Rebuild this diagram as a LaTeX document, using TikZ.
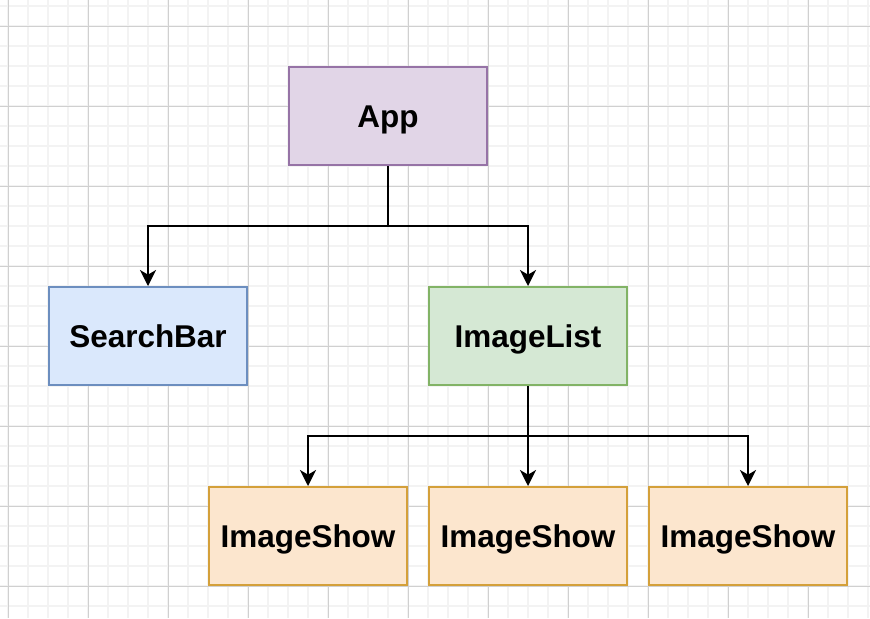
\documentclass[tikz,border=0pt]{standalone}
\usepackage{fontspec}
\setmainfont{Liberation Sans}
\usetikzlibrary{arrows.meta}
\definecolor{minorgrid}{HTML}{F3F3F3}
\definecolor{majorgrid}{HTML}{D0D0D0}
\definecolor{appfill}{HTML}{E1D5E7}
\definecolor{appdraw}{HTML}{9673A6}
\definecolor{sbfill}{HTML}{DAE8FC}
\definecolor{sbdraw}{HTML}{6C8EBF}
\definecolor{ilfill}{HTML}{D5E8D4}
\definecolor{ildraw}{HTML}{82B366}
\definecolor{isfill}{HTML}{FCE6CE}
\definecolor{isdraw}{HTML}{D4A03A}
\tikzset{
  comp/.style={draw, line width=1.5pt, minimum width=148.5pt, minimum height=73.5pt,
    inner sep=0pt, font=\fontsize{23.6pt}{28pt}\selectfont\bfseries, text=black,
    text height=17pt, text depth=0pt},
  conn/.style={line width=1.5pt, draw=black,
    -{Stealth[length=12pt, width=12pt, inset=3.5pt]}},
  link/.style={line width=1.5pt, draw=black},
}
\begin{document}
\begin{tikzpicture}[x=0.75pt, y=-0.75pt]
\useasboundingbox (0,0) rectangle (870,618);
\fill[white] (0,0) rectangle (870,618);
% minor grid
\foreach \x in {8,28,...,868} \draw[minorgrid, line width=1.5pt] (\x,0) -- (\x,618);
\foreach \y in {6,26,...,606} \draw[minorgrid, line width=1.5pt] (0,\y) -- (870,\y);
% major grid
\foreach \x in {8,88,...,868} \draw[majorgrid, line width=0.75pt] (\x,0) -- (\x,618);
\foreach \y in {26,106,...,606} \draw[majorgrid, line width=0.75pt] (0,\y) -- (870,\y);

\node[comp, fill=appfill, draw=appdraw] (app) at (388,116) {App};
\node[comp, fill=sbfill, draw=sbdraw] (sb) at (148,336) {SearchBar};
\node[comp, fill=ilfill, draw=ildraw] (il) at (528,336) {ImageList};
\node[comp, fill=isfill, draw=isdraw] (is1) at (308,536) {ImageShow};
\node[comp, fill=isfill, draw=isdraw] (is2) at (528,536) {ImageShow};
\node[comp, fill=isfill, draw=isdraw] (is3) at (748,536) {ImageShow};

\coordinate (j1) at (388,226);
\coordinate (j2) at (528,436);
\draw[link] (app.south) -- (j1);
\draw[conn] (j1) -| (sb.north);
\draw[conn] (j1) -| (il.north);
\draw[link] (il.south) -- (j2);
\draw[conn] (j2) -| (is1.north);
\draw[conn] (j2) -- (is2.north);
\draw[conn] (j2) -| (is3.north);
\end{tikzpicture}
\end{document}
